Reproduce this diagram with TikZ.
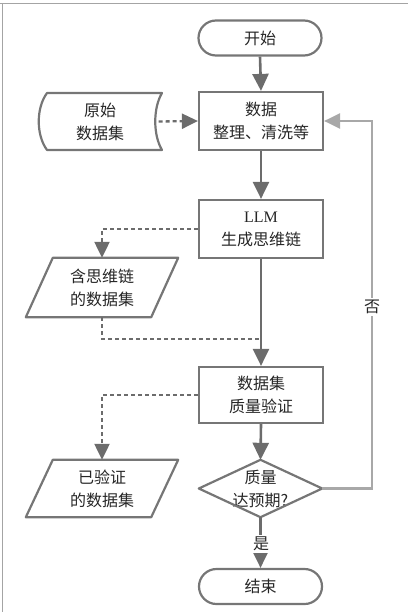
\documentclass[tikz,border=0pt]{standalone}
\usepackage{fontspec}
\setmainfont{Noto Sans CJK SC}
\newfontfamily\latinf{Liberation Serif}
\usetikzlibrary{shapes.misc,arrows.meta,calc}
\definecolor{boxc}{HTML}{767676}
\definecolor{arrc}{HTML}{6C6C6C}
\definecolor{fbc}{HTML}{A8A8A8}
\definecolor{brd}{HTML}{A4A4A4}
\tikzset{
  base/.style={inner sep=0pt, align=center, font=\fontsize{16}{23}\selectfont, text=black!85},
  procbox/.style={base, draw=boxc, line width=2.2pt, rectangle, minimum width=124pt, minimum height=58pt},
  termbox/.style={base, draw=boxc, line width=2.2pt, rounded rectangle, minimum width=123pt, minimum height=35pt},
  plainbox/.style={base, rectangle},
  shapeline/.style={draw=boxc, line width=2.2pt, line join=round},
  solidarr/.style={draw=arrc, line width=2.6pt, -{Triangle[length=17pt,width=16pt]}},
  dasharr/.style={draw=arrc, line width=2.3pt, dash pattern=on 4pt off 3pt, -{Triangle[length=16pt,width=15pt]}},
  dashline/.style={draw=arrc, line width=2.3pt, dash pattern=on 4pt off 3pt},
  fbarr/.style={draw=fbc, line width=2.2pt, -{Triangle[length=16pt,width=15pt]}},
  lbl/.style={base, fill=white, inner sep=2pt}
}
\begin{document}
\begin{tikzpicture}[x=1pt,y=-1pt]
\useasboundingbox (0,0) rectangle (408,612);
% border
\draw[brd, line width=1.8pt] (0,3.5) -- (408,3.5);
\draw[brd, line width=1.8pt] (2.5,3.5) -- (2.5,612);

% nodes
\node[termbox] (start) at (260,38) {开始};
\node[procbox] (b1) at (261,121) {数据\\整理、清洗等};
\node[plainbox, minimum width=117pt, minimum height=57pt] (raw) at (100,121.5) {原始\\数据集};
\draw[shapeline] (47,93) -- (162,93) .. controls (153,108) and (153,135) .. (162,150)
  -- (47,150) .. controls (36,135) and (36,108) .. (47,93) -- cycle;
\node[procbox] (b2) at (261,229) {{\latinf LLM}\\生成思维链};
\node[plainbox, minimum width=125pt, minimum height=59pt] (p1) at (102,287.5) {含思维链\\的数据集};
\draw[shapeline] ($(p1.north west)+(13.5,0)$) -- ($(p1.north east)+(13.5,0)$)
  -- ($(p1.south east)+(-13.5,0)$) -- ($(p1.south west)+(-13.5,0)$) -- cycle;
\node[procbox, minimum height=56pt] (b3) at (261,395) {数据集\\质量验证};
\node[plainbox, minimum width=125pt, minimum height=57pt] (p2) at (102,488.5) {已验证\\的数据集};
\draw[shapeline] ($(p2.north west)+(13.5,0)$) -- ($(p2.north east)+(13.5,0)$)
  -- ($(p2.south east)+(-13.5,0)$) -- ($(p2.south west)+(-13.5,0)$) -- cycle;
\node[plainbox, minimum width=123pt, minimum height=57pt] (d) at (260.5,488.5) {质量\\达预期?};
\draw[shapeline] (d.north) -- (d.east) -- (d.south) -- (d.west) -- cycle;
\node[termbox] (end) at (260.5,586.5) {结束};

% connectors
\coordinate (m1) at (261,339);
\coordinate (fb) at (372,121);
\draw[solidarr] (start.south) -- (b1.north);
\draw[dasharr] (raw.east) -- (b1.west);
\draw[solidarr] (b1.south) -- (b2.north);
\draw[dasharr] (b2.west) -| (p1.north);
\draw[dashline] (p1.south) |- (m1);
\draw[solidarr] (b2.south) -- (b3.north);
\draw[dasharr] (b3.west) -| (p2.north);
\draw[solidarr] (b3.south) -- (d.north);
\draw[fbarr] (d.east) -| (fb) -- (b1.east);
\node[lbl] (no) at (372,307) {否};
\draw[solidarr] (d.south) -- (end.north);
\node[lbl] (yes) at (261,544) {是};
\end{tikzpicture}
\end{document}
